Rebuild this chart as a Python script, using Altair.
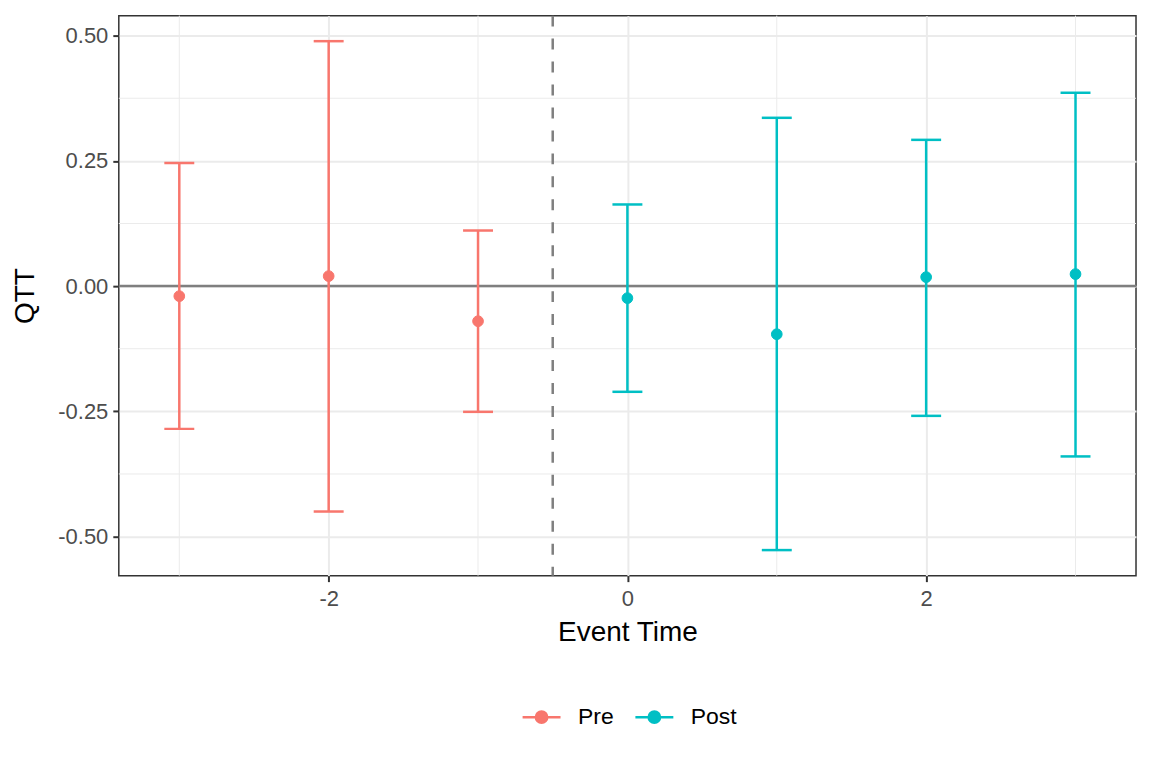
import pandas as pd
import altair as alt

# event study estimates
event_time = [-3, -2, -1, 0, 1, 2, 3]
qtt = [-0.020, 0.020, -0.070, -0.024, -0.096, 0.018, 0.024]
lower = [-0.285, -0.450, -0.251, -0.211, -0.527, -0.259, -0.340]
upper = [0.246, 0.489, 0.111, 0.163, 0.336, 0.292, 0.386]
period = ["Pre", "Pre", "Pre", "Post", "Post", "Post", "Post"]

period_names = ["Pre", "Post"]
period_colors = ["#F8766D", "#00BFC4"]

x_major = [-2, 0, 2]
x_minor = [-3, -1, 1, 3]
y_major = [-0.50, -0.25, 0.00, 0.25, 0.50]
y_minor = [-0.375, -0.125, 0.125, 0.375]
treat_line = [-0.5]
zero_line = [0.0]

df = pd.DataFrame({
    "event_time": event_time,
    "qtt": qtt,
    "lower": lower,
    "upper": upper,
    "period": period,
})

FONT = "Liberation Sans"
x_scale = alt.Scale(domain=[-3.405, 3.405], nice=False, zero=False)
y_scale = alt.Scale(domain=[-0.578, 0.54], nice=False, zero=False)
color_scale = alt.Scale(domain=period_names, range=period_colors)

# ggplot prints a plain hyphen, not the unicode minus
hyphen = "replace(datum.label, '\u2212', '-')"
x_axis = alt.Axis(values=x_major, format="d", title="Event Time", grid=True, labelExpr=hyphen)
y_axis = alt.Axis(values=y_major, format=".2f", title="QTT", grid=True, labelExpr=hyphen)

base = alt.Chart(df)

xminor = alt.Chart(pd.DataFrame({"v": x_minor})).mark_rule(
    color="#EBEBEB", strokeWidth=1
).encode(x=alt.X("v:Q", scale=x_scale, axis=x_axis))

yminor = alt.Chart(pd.DataFrame({"v": y_minor})).mark_rule(
    color="#EBEBEB", strokeWidth=1
).encode(y=alt.Y("v:Q", scale=y_scale, axis=y_axis))

hline = alt.Chart(pd.DataFrame({"v": zero_line})).mark_rule(
    color="#7F7F7F", strokeWidth=2.5
).encode(y=alt.Y("v:Q", scale=y_scale))

vline = alt.Chart(pd.DataFrame({"v": treat_line})).mark_rule(
    color="#7F7F7F", strokeWidth=2.5, strokeDash=[11, 12]
).encode(x=alt.X("v:Q", scale=x_scale))

bars = base.mark_rule(strokeWidth=2.5, opacity=1).encode(
    x=alt.X("event_time:Q", scale=x_scale),
    y=alt.Y("lower:Q", scale=y_scale),
    y2="upper:Q",
    color=alt.Color("period:N", scale=color_scale, legend=None),
)

caps_hi = base.mark_tick(orient="horizontal", size=30, thickness=2.5, opacity=1).encode(
    x=alt.X("event_time:Q", scale=x_scale),
    y=alt.Y("upper:Q", scale=y_scale),
    color=alt.Color("period:N", scale=color_scale, legend=None),
)

caps_lo = base.mark_tick(orient="horizontal", size=30, thickness=2.5, opacity=1).encode(
    x=alt.X("event_time:Q", scale=x_scale),
    y=alt.Y("lower:Q", scale=y_scale),
    color=alt.Color("period:N", scale=color_scale, legend=None),
)

# line-with-dot key, like ggplot's combined errorbar/point legend
legend = alt.Legend(
    title=None,
    orient="none",
    direction="horizontal",
    legendX=403,
    legendY=682,
    symbolType="M-1,0H1M0.3,0A0.3,0.3 0 1,1 -0.3,0A0.3,0.3 0 1,1 0.3,0",
    symbolSize=1444,
    symbolStrokeWidth=2.5,
    labelFont=FONT,
    labelFontSize=23,
    labelColor="#000000",
    columnPadding=16,
    labelOffset=16,
)

# fill + stroke so the legend key gets both the line and the filled dot
points = base.mark_point(filled=True, opacity=1, strokeWidth=1).encode(
    x=alt.X("event_time:Q", scale=x_scale),
    y=alt.Y("qtt:Q", scale=y_scale),
    fill=alt.Fill("period:N", scale=color_scale, legend=legend),
    stroke=alt.Stroke("period:N", scale=color_scale, legend=legend),
)

chart = alt.layer(
    xminor, yminor, hline, vline, bars, caps_hi, caps_lo, points
).resolve_legend(
    color="independent"
).properties(
    width=1019,
    height=561,
    padding={"left": 3, "top": 5, "right": 6, "bottom": 5},
).configure_point(
    size=115
).configure_view(
    stroke="#333333", strokeWidth=1.5
).configure_axis(
    domain=False,
    gridColor="#EBEBEB",
    gridWidth=2,
    tickColor="#333333",
    tickSize=6,
    tickWidth=2,
    labelFont=FONT,
    labelFontSize=22,
    labelColor="#4D4D4D",
    titleFont=FONT,
    titleFontSize=28,
    titleFontWeight="normal",
    titleColor="#000000",
).configure_axisX(
    labelPadding=7, titlePadding=9
).configure_axisY(
    labelPadding=5, titlePadding=18
)

chart.save("out.html", embed_options={"renderer": "svg", "actions": False})
